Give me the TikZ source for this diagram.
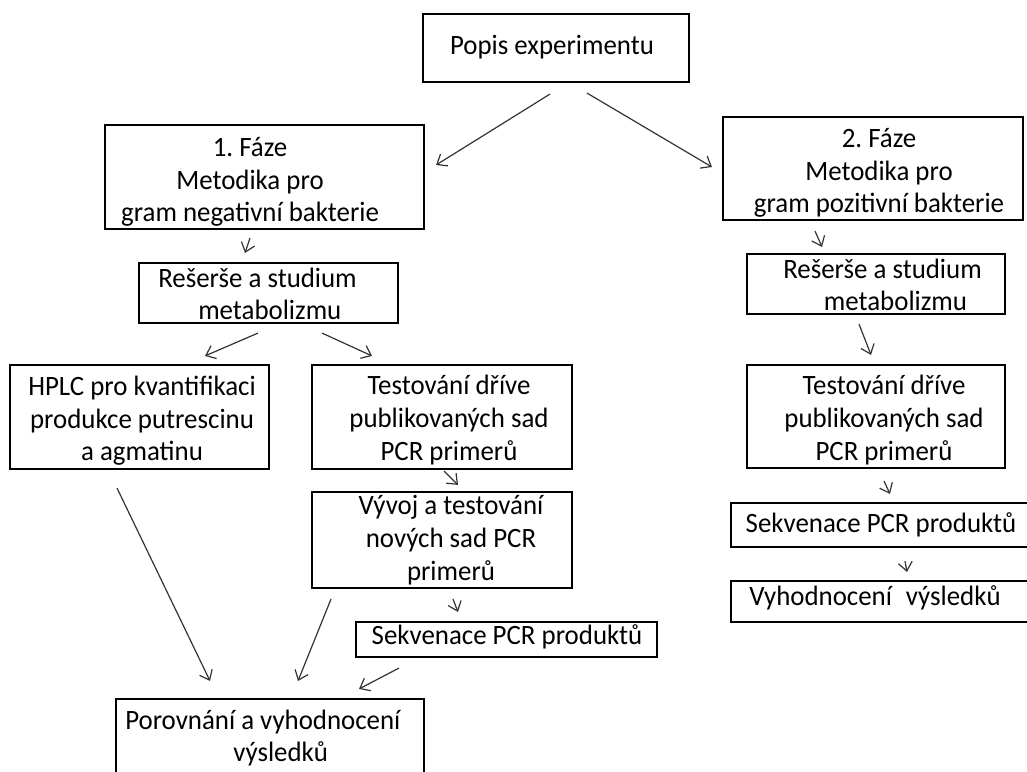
\documentclass[tikz,border=0pt]{standalone}
\usepackage{fontspec}
\setmainfont{Carlito}[FakeStretch=0.96]
\usetikzlibrary{arrows.meta,calc}
\frenchspacing
\tikzset{
  box/.style={draw=black, line width=1.6pt, inner sep=0pt, fill=none},
  txt/.style={inner sep=0pt, align=center, font=\fontsize{21pt}{24.5pt}\selectfont, text=black},
  txtl/.style={txt, align=left},
  arr/.style={draw=black!80, line width=0.9pt, -{Straight Barb[length=6.5pt,width=10.5pt]}},
}
\begin{document}
\begin{tikzpicture}[x=0.75pt,y=-0.75pt]
\useasboundingbox (0,0) rectangle (1027,771);
\clip (0,0) rectangle (1027,771);
% boxes
\node[box, minimum width=266*0.75pt, minimum height=68*0.75pt] (popis) at (556,48) {};
\node[box, minimum width=319*0.75pt, minimum height=104*0.75pt] (f1) at (264.5,177) {};
\node[box, minimum width=300*0.75pt, minimum height=103*0.75pt] (f2) at (873,168.5) {};
\node[box, minimum width=259*0.75pt, minimum height=60*0.75pt] (r1) at (268.5,293) {};
\node[box, minimum width=258*0.75pt, minimum height=60*0.75pt] (r2) at (876,284) {};
\node[box, minimum width=259*0.75pt, minimum height=104*0.75pt] (hplc) at (139.5,417) {};
\node[box, minimum width=260*0.75pt, minimum height=104*0.75pt] (t1) at (442,417) {};
\node[box, minimum width=260*0.75pt, minimum height=96*0.75pt] (v) at (442,540) {};
\node[box, minimum width=301*0.75pt, minimum height=35*0.75pt] (s1) at (506.5,639.5) {};
\node[box, minimum width=308*0.75pt, minimum height=91*0.75pt] (por) at (270,744.5) {};
\node[box, minimum width=258*0.75pt, minimum height=103*0.75pt] (t2) at (876,416.5) {};
\node[box, minimum width=309*0.75pt, minimum height=44*0.75pt] (s2) at (885.5,525) {};
\node[box, minimum width=309*0.75pt, minimum height=41*0.75pt] (vy) at (885.5,601.5) {};
% texts
\node[txt] (popist) at (552,47) {Popis experimentu};
\node[txt] (f1t) at (250,182) {1. Fáze\\Metodika pro\\gram negativní bakterie};
\node[txt] (f2t) at (879,173) {2. Fáze\\Metodika pro\\gram pozitivní bakterie};
\node[txtl, anchor=west] (r1t) at (158,294) {Rešerše a studium\\\hspace*{30pt}metabolizmu};
\node[txtl, anchor=west] (r2t) at (783,285) {Rešerše a studium\\\hspace*{30.5pt}metabolizmu};
\node[txt] (hplct) at (142,421) {HPLC pro kvantifikaci\\produkce putrescinu\\a agmatinu};
\node[txt] (t1t) at (449,420) {Testování dříve\\publikovaných sad\\PCR primerů};
\node[txt] (vt) at (451,540) {Vývoj a testování\\nových sad PCR\\primerů};
\node[txt] (s1t) at (507,637) {Sekvenace PCR produktů};
\node[txtl, anchor=west] (port) at (125,738) {Porovnání a vyhodnocení\\\hspace*{81pt}výsledků};
\node[txt] (t2t) at (884,420) {Testování dříve\\publikovaných sad\\PCR primerů};
\node[txt] (s2t) at (881,525) {Sekvenace PCR produktů};
\node[txt] (vyt) at (875,598) {Vyhodnocení\hspace{0.5em}výsledků};
% arrows
\draw[arr] ($(popis.south)+(-6,11)$) -- ($(f1.east)+(11,-12)$);
\draw[arr] ($(popis.south)+(31,10)$) -- ($(f2.west)+(-10,-1.5)$);
\draw[arr] ($(f1.south)+(-14.5,8)$) -- ($(r1.north)+(-23.5,-9)$);
\draw[arr] ($(r1.south)+(-10.5,9)$) -- ($(hplc.north)+(65.5,-8)$);
\draw[arr] ($(r1.south)+(53.5,9)$) -- ($(t1.north)+(-70,-8)$);
\draw[arr] ($(t1.south)+(2,1)$) -- ($(v.north)+(16,-6)$);
\draw[arr] ($(v.south)+(11,10)$) -- ($(s1.north)+(-48.5,-9)$);
\draw[arr] ($(hplc.south)+(-22.5,18)$) -- ($(por.north)+(-60,-17)$);
\draw[arr] ($(v.south)+(-111,10)$) -- ($(por.north)+(28,-17)$);
\draw[arr] ($(s1.south)+(-107.5,10)$) -- ($(por.north)+(89,-9)$);
\draw[arr] ($(f2.south)+(-58,10)$) -- ($(r2.north)+(-54,-6)$);
\draw[arr] ($(r2.south)+(-17,9)$) -- ($(t2.north)+(-5,-9)$);
\draw[arr] ($(t2.south)+(8,12)$) -- ($(s2.north)+(4.5,-8)$);
\draw[arr] ($(s2.south)+(19.5,13)$) -- ($(vy.north)+(21.5,-8)$);
\end{tikzpicture}
\end{document}
